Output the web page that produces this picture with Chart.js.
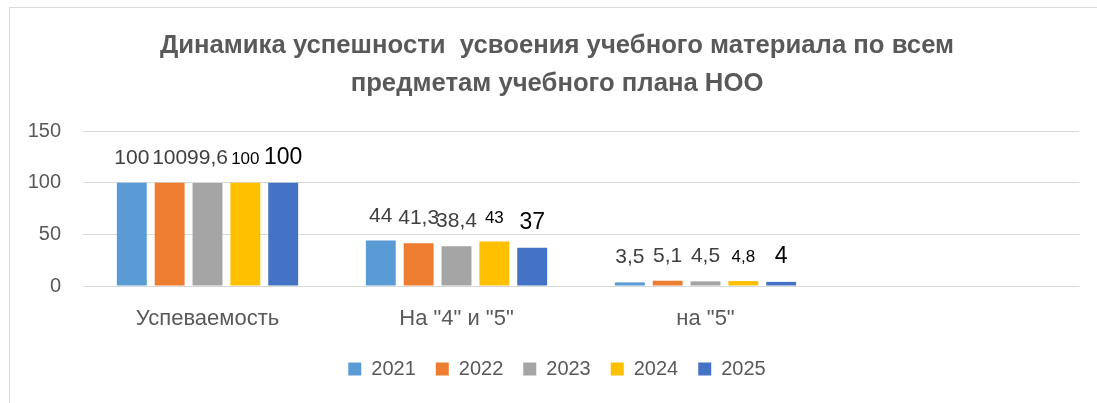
<!DOCTYPE html>
<html>
<head>
<meta charset="utf-8">
<script src="https://cdn.jsdelivr.net/npm/chart.js@4/dist/chart.umd.min.js"></script>
<style>
  html, body { margin: 0; padding: 0; background: #fff; }
  #wrap { position: relative; width: 1097px; height: 403px; overflow: hidden; }
  #frame { position: absolute; left: 9px; top: 7px; width: 1200px; height: 500px;
           border-left: 1px solid #d9d9d9; border-top: 1px solid #d9d9d9; }
  canvas { position: absolute; left: 0; top: 0; }
</style>
</head>
<body>
<div id="wrap">
  <div id="frame"></div>
  <canvas id="c" width="1097" height="403"></canvas>
</div>
<script>
const titleLines = ['Динамика успешности  усвоения учебного материала по всем', 'предметам учебного плана НОО'];
const categories = ['Успеваемость', 'На "4" и "5"', 'на "5"', ''];
const years = ['2021', '2022', '2023', '2024', '2025'];
const values2021 = [100, 44, 3.5, null];
const values2022 = [100, 41.3, 5.1, null];
const values2023 = [99.6, 38.4, 4.5, null];
const values2024 = [100, 43, 4.8, null];
const values2025 = [100, 37, 4, null];
const yTicks = [0, 50, 100, 150];

const seriesValues = [values2021, values2022, values2023, values2024, values2025];
const colors = ['#5B9BD5', '#ED7D31', '#A5A5A5', '#FFC000', '#4472C4'];
const labelFonts = [21, 21, 21, 17, 23];
const labelColors = ['#404040', '#404040', '#404040', '#000000', '#000000'];
const FONT = '"Liberation Sans", Arial, sans-serif';

const dataLabelPlugin = {
  id: 'dataLabels',
  afterDatasetsDraw(chart) {
    const ctx = chart.ctx;
    chart.data.datasets.forEach((ds, i) => {
      const meta = chart.getDatasetMeta(i);
      meta.data.forEach((bar, j) => {
        const v = ds.data[j];
        if (v == null) return;
        ctx.save();
        ctx.font = labelFonts[i] + 'px ' + FONT;
        ctx.fillStyle = labelColors[i];
        ctx.textAlign = 'center';
        ctx.textBaseline = 'alphabetic';
        ctx.fillText(String(v).replace('.', ','), bar.x, bar.y - 19);
        ctx.restore();
      });
    });
  }
};

new Chart(document.getElementById('c'), {
  type: 'bar',
  data: {
    labels: categories,
    datasets: years.map((y, i) => ({
      label: y,
      data: seriesValues[i],
      backgroundColor: colors[i],
      borderWidth: 0,
      categoryPercentage: 0.76,
      barPercentage: 0.79
    }))
  },
  options: {
    responsive: false,
    animation: false,
    devicePixelRatio: 1,
    layout: { padding: { left: 35, right: 18, top: 0, bottom: 14 } },
    plugins: {
      title: {
        display: true,
        text: titleLines,
        color: '#595959',
        font: { family: FONT, size: 25.7, weight: 'bold', lineHeight: '38px' },
        padding: { top: 27, bottom: 28 }
      },
      legend: {
        position: 'bottom',
        labels: {
          boxWidth: 13, boxHeight: 13, padding: 20,
          color: '#595959',
          font: { family: FONT, size: 20 }
        }
      },
      tooltip: { enabled: false }
    },
    scales: {
      x: {
        grid: { display: false, drawTicks: false },
        border: { display: false },
        ticks: { color: '#595959', font: { family: FONT, size: 22 }, padding: 20, maxRotation: 0 },
        afterFit(s) { s.height = 53; }
      },
      y: {
        min: 0, max: 150,
        afterBuildTicks(s) { s.ticks = yTicks.map(v => ({ value: v })); },
        grid: { color: '#d9d9d9', lineWidth: 1, drawTicks: false },
        border: { display: false },
        ticks: { color: '#595959', font: { family: FONT, size: 20 }, padding: 22 },
        afterFit(s) { s.width = 48; s._computeLabelArea = () => null; }
      }
    }
  },
  plugins: [dataLabelPlugin]
});
</script>
</body>
</html>
